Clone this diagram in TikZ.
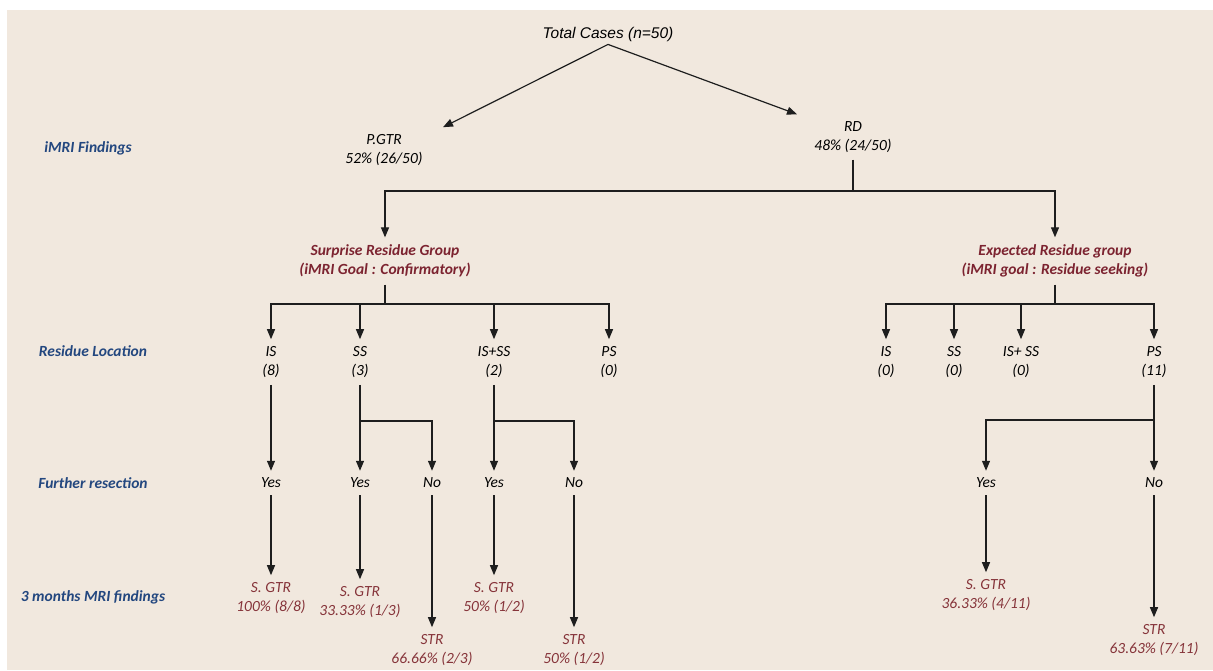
\documentclass[tikz,border=0pt]{standalone}
\usepackage{fontspec}
\setmainfont{Carlito}
\newfontfamily\topfont{Liberation Sans}
\usetikzlibrary{arrows.meta}
\definecolor{bgbeige}{HTML}{F1E8DE}
\definecolor{lblblue}{HTML}{23477F}
\definecolor{grpred}{HTML}{7C2330}
\definecolor{resred}{HTML}{86343A}
\definecolor{lnblack}{HTML}{1E1E1E}
\tikzset{
  txt/.style={font=\fontsize{15.5}{19}\selectfont\itshape, align=center,
              inner xsep=2pt, inner ysep=7pt},
  rowlbl/.style={font=\fontsize{15.5}{19}\selectfont\bfseries\itshape, text=lblblue},
  grp/.style={txt, font=\fontsize{15.5}{19.5}\selectfont\bfseries\itshape, text=grpred},
  res/.style={txt, text=resred},
  arr/.style={-{Triangle[width=8pt,length=10pt]}, line width=1.2pt, draw=lnblack},
  ln/.style={line width=1.2pt, draw=lnblack}
}
\begin{document}
\begin{tikzpicture}[x=1pt,y=-1pt]
  % Background
  \useasboundingbox (0,0) rectangle (1213,670);
  \fill[bgbeige] (7,10) rectangle (1213,670);
  % Row labels
  \node[rowlbl] (lblfind) at (88,148) {iMRI Findings};
  \node[rowlbl] (lblloc) at (93,351) {Residue Location};
  \node[rowlbl] (lblres) at (93,483) {Further resection};
  \node[rowlbl] (lblmri) at (93,597) {3 months MRI findings};
  % Top level
  \node[txt, font=\fontsize{15.5}{18}\selectfont\topfont\itshape] (total) at (608,34)
        {Total Cases (n=50)};
  \node[txt] (pgtr) at (384,150) {P.GTR\\52\% (26/50)};
  \node[txt] (rd) at (853,137) {RD\\48\% (24/50)};
  \draw[arr] ([yshift=4pt]total.south) -- ([xshift=59pt]pgtr.north);
  \draw[arr] ([yshift=4pt]total.south) -- ([xshift=-56pt]rd.north);
  % Residue groups
  \node[grp] (surp) at (385,261) {Surprise Residue Group\\(iMRI Goal : Confirmatory)};
  \node[grp] (expd) at (1055,261) {Expected Residue group\\(iMRI goal : Residue seeking)};
  \coordinate (rdj) at (853,191);
  \draw[ln] (rd.south) -- (rdj);
  \draw[arr] (rdj) -| (surp.north);
  \draw[arr] (rdj) -| (expd.north);
  % Residue location, surprise group
  \node[txt] (lis) at (271,362) {IS\\(8)};
  \node[txt] (lss) at (360,362) {SS\\(3)};
  \node[txt] (liss) at (494,362) {IS+SS\\(2)};
  \node[txt] (lps) at (609,362) {PS\\(0)};
  \coordinate (surj) at (385,304);
  \draw[ln] (surp.south) -- (surj);
  \foreach \n in {lis,lss,liss,lps}
    \draw[arr] (surj) -| (\n.north);
  % Residue location, expected group
  \node[txt] (ris) at (886,362) {IS\\(0)};
  \node[txt] (rss) at (954,362) {SS\\(0)};
  \node[txt] (riss) at (1021,362) {IS+ SS\\(0)};
  \node[txt] (rps) at (1154,362) {PS\\(11)};
  \coordinate (expj) at (1055,304);
  \draw[ln] (expd.south) -- (expj);
  \foreach \n in {ris,rss,riss,rps}
    \draw[arr] (expj) -| (\n.north);
  % Further resection
  \node[txt] (lisy) at (271,483) {Yes};
  \node[txt] (lssy) at (360,483) {Yes};
  \node[txt] (lssn) at (432,483) {No};
  \node[txt] (lissy) at (494,483) {Yes};
  \node[txt] (lissn) at (574,483) {No};
  \node[txt] (rpsy) at (986,483) {Yes};
  \node[txt] (rpsn) at (1154,483) {No};
  \coordinate (lssj) at (360,421);
  \coordinate (lissj) at (494,421);
  \coordinate (rpsj) at (1154,420);
  \draw[arr] (lis.south) -- (lisy.north);
  \draw[arr] (lss.south) -- (lssy.north);
  \draw[arr] (lssj) -| (lssn.north);
  \draw[arr] (liss.south) -- (lissy.north);
  \draw[arr] (lissj) -| (lissn.north);
  \draw[arr] (rps.south) -- (rpsn.north);
  \draw[arr] (rpsj) -| (rpsy.north);
  % 3 months MRI findings
  \node[res] (lisr) at (271,598) {S. GTR\\100\% (8/8)};
  \node[res] (lssr) at (360,602) {S. GTR\\33.33\% (1/3)};
  \node[res] (lssnr) at (432,650) {STR\\66.66\% (2/3)};
  \node[res] (lissr) at (494,598) {S. GTR\\50\% (1/2)};
  \node[res] (lissnr) at (574,650) {STR\\50\% (1/2)};
  \node[res] (rpsr) at (986,595) {S. GTR\\36.33\% (4/11)};
  \node[res] (rpsnr) at (1154,640) {STR\\63.63\% (7/11)};
  \draw[arr] (lisy.south) -- (lisr.north);
  \draw[arr] (lssy.south) -- (lssr.north);
  \draw[arr] (lssn.south) -- (lssnr.north);
  \draw[arr] (lissy.south) -- (lissr.north);
  \draw[arr] (lissn.south) -- (lissnr.north);
  \draw[arr] (rpsy.south) -- (rpsr.north);
  \draw[arr] (rpsn.south) -- (rpsnr.north);
\end{tikzpicture}
\end{document}
